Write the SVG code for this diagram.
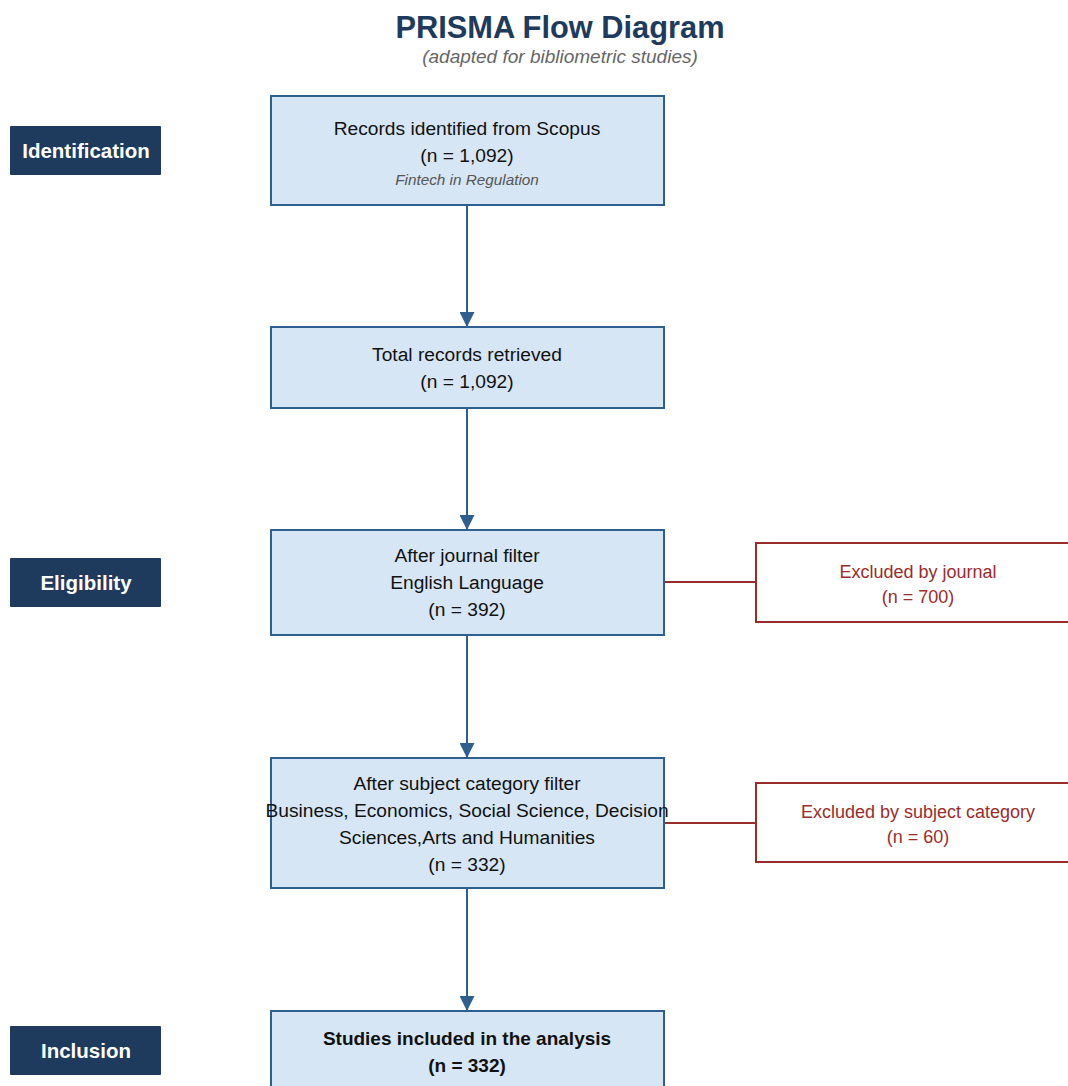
<svg xmlns="http://www.w3.org/2000/svg" width="1068" height="1086" viewBox="0 0 1068 1086">
<style>
.box{fill:#d6e6f5;stroke:#2e5f8f;stroke-width:2}
.exbox{fill:#ffffff;stroke:#9b2c2c;stroke-width:2}
.stage{fill:#1e3a5c}
.stagetxt{font-family:"Liberation Sans",Arial,sans-serif;font-size:20.5px;font-weight:bold;fill:#ffffff;text-anchor:middle}
.t{font-family:"Liberation Sans",Arial,sans-serif;font-size:19.2px;fill:#111111;text-anchor:middle}
.tb{font-family:"Liberation Sans",Arial,sans-serif;font-size:19px;font-weight:bold;fill:#111111;text-anchor:middle}
.ti{font-family:"Liberation Sans",Arial,sans-serif;font-size:15.3px;font-style:italic;fill:#555555;text-anchor:middle}
.ex{font-family:"Liberation Sans",Arial,sans-serif;font-size:18px;fill:#9b2c2c;text-anchor:middle}
.flow{stroke:#2e5f8f;stroke-width:2;fill:none}
.exl{stroke:#9b2c2c;stroke-width:2;fill:none}
</style>
<defs>
<marker id="ah" viewBox="0 0 10 10" refX="10" refY="5" markerWidth="7.5" markerHeight="7.5" markerUnits="strokeWidth" orient="auto">
<path d="M0,0 L10,5 L0,10 Z" fill="#2e5f8f"/>
</marker>
</defs>
<rect width="1068" height="1086" fill="#ffffff"/>
<g id="title">
<text x="560" y="38" font-family="Liberation Sans,Arial,sans-serif" font-size="30.8" font-weight="bold" fill="#1e3a5c" text-anchor="middle">PRISMA Flow Diagram</text>
<text x="560" y="63" font-family="Liberation Sans,Arial,sans-serif" font-size="19" font-style="italic" fill="#666666" text-anchor="middle">(adapted for bibliometric studies)</text>
</g>
<g id="stage-identification">
<rect class="stage" x="10" y="126" width="151" height="49" rx="1"/>
<text class="stagetxt" x="86" y="158">Identification</text>
</g>
<g id="stage-eligibility">
<rect class="stage" x="10" y="558" width="151" height="49" rx="1"/>
<text class="stagetxt" x="86" y="590">Eligibility</text>
</g>
<g id="stage-inclusion">
<rect class="stage" x="10" y="1026" width="151" height="49" rx="1"/>
<text class="stagetxt" x="86" y="1058">Inclusion</text>
</g>
<g id="connectors">
<line class="flow" x1="467" y1="205" x2="467" y2="327" marker-end="url(#ah)"/>
<line class="flow" x1="467" y1="408" x2="467" y2="530" marker-end="url(#ah)"/>
<line class="flow" x1="467" y1="635" x2="467" y2="758" marker-end="url(#ah)"/>
<line class="flow" x1="467" y1="888" x2="467" y2="1011" marker-end="url(#ah)"/>
<line class="exl" x1="664" y1="582" x2="756" y2="582"/>
<line class="exl" x1="664" y1="823" x2="756" y2="823"/>
</g>
<g id="node-scopus">
<rect class="box" x="271" y="96" width="393" height="109"/>
<text class="t" x="467" y="135">Records identified from Scopus</text>
<text class="t" x="467" y="162">(n = 1,092)</text>
<text class="ti" x="467" y="185">Fintech in Regulation</text>
</g>
<g id="node-total">
<rect class="box" x="271" y="327" width="393" height="81"/>
<text class="t" x="467" y="361">Total records retrieved</text>
<text class="t" x="467" y="388">(n = 1,092)</text>
</g>
<g id="node-journal">
<rect class="box" x="271" y="530" width="393" height="105"/>
<text class="t" x="467" y="562">After journal filter</text>
<text class="t" x="467" y="589">English Language</text>
<text class="t" x="467" y="616">(n = 392)</text>
</g>
<g id="node-excluded-journal">
<rect class="exbox" x="756" y="543" width="330" height="79"/>
<text class="ex" x="918" y="578">Excluded by journal</text>
<text class="ex" x="918" y="603">(n = 700)</text>
</g>
<g id="node-subject">
<rect class="box" x="271" y="758" width="393" height="130"/>
<text class="t" x="467" y="790">After subject category filter</text>
<text class="t" x="467" y="817">Business, Economics, Social Science, Decision</text>
<text class="t" x="467" y="844">Sciences,Arts and Humanities</text>
<text class="t" x="467" y="871">(n = 332)</text>
</g>
<g id="node-excluded-subject">
<rect class="exbox" x="756" y="783" width="330" height="79"/>
<text class="ex" x="918" y="818">Excluded by subject category</text>
<text class="ex" x="918" y="843">(n = 60)</text>
</g>
<g id="node-included">
<rect class="box" x="271" y="1011" width="393" height="90"/>
<text class="tb" x="467" y="1045">Studies included in the analysis</text>
<text class="tb" x="467" y="1072">(n = 332)</text>
</g>
</svg>
